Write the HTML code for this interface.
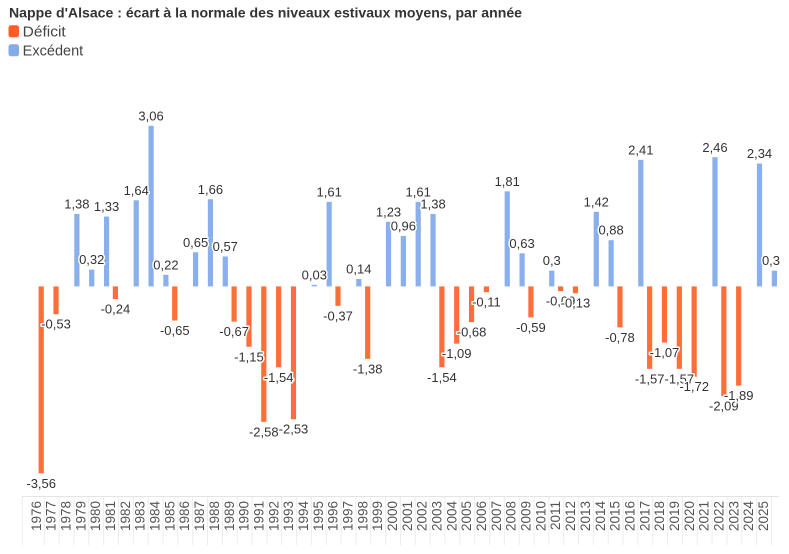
<!DOCTYPE html>
<html><head><meta charset="utf-8"><style>
html,body{margin:0;padding:0;background:#fff;}
svg{display:block;font-family:"Liberation Sans",Arial,sans-serif;}
.v{font-size:13px;fill:#333;stroke:#fff;stroke-width:3px;paint-order:stroke;stroke-linejoin:round;}
.x{font-size:13.5px;fill:#555;}
</style></head><body>
<svg width="789" height="554" viewBox="0 0 789 554" xmlns="http://www.w3.org/2000/svg" id="c">
<text x="9" y="17.5" font-size="14" font-weight="bold" fill="#333" textLength="513" lengthAdjust="spacingAndGlyphs">Nappe d'Alsace : écart à la normale des niveaux estivaux moyens, par année</text>
<rect x="8.5" y="25.3" width="10.5" height="12" rx="2.5" fill="#ff5d24"/>
<text x="22.7" y="36.6" font-size="14.5" fill="#444" textLength="43" lengthAdjust="spacingAndGlyphs">Déficit</text>
<rect x="8.5" y="44.3" width="10.5" height="12" rx="2.5" fill="#84aaea"/>
<text x="22.7" y="55.4" font-size="14.5" fill="#444" textLength="60.5" lengthAdjust="spacingAndGlyphs">Excédent</text>
<g id="axis"></g>
<g id="bars"></g>
<g id="labels"></g>
<script>
(function(){
var vals=[-3.56,-0.53,1.38,0.32,1.33,-0.24,1.64,3.06,0.22,-0.65,0.65,1.66,0.57,-0.67,-1.15,-2.58,-1.54,-2.53,0.03,1.61,-0.37,0.14,-1.38,1.23,0.96,1.61,1.38,-1.54,-1.09,-0.68,-0.11,1.81,0.63,-0.59,0.3,-0.09,-0.13,1.42,0.88,-0.78,2.41,-1.57,-1.07,-1.57,-1.72,2.46,-2.09,-1.89,2.34,0.3];
var NS="http://www.w3.org/2000/svg";
function el(n,a,p,t){var e=document.createElementNS(NS,n);for(var k in a)e.setAttribute(k,a[k]);if(t!==undefined)e.textContent=t;p.appendChild(e);return e;}
var ax=document.getElementById("axis"),bars=document.getElementById("bars"),lab=document.getElementById("labels");
var z=286.4,s=52.5,step=14.84;
// axis
el("line",{x1:22.3,y1:496.5,x2:22.3,y2:545,stroke:"#ececec","stroke-width":1},ax);
for(var j=0;j<50;j++){var gx=44.3+step*j;el("line",{x1:gx,y1:496.5,x2:gx,y2:545,stroke:"#ececec","stroke-width":1},ax);}
el("line",{x1:22,y1:496.5,x2:779,y2:496.5,stroke:"#e4e4e4","stroke-width":1},ax);
for(var k=0;k<50;k++){var cx=36.1+step*k;el("text",{"class":"x",transform:"translate("+cx.toFixed(2)+",501) rotate(-90)","text-anchor":"end",dy:"0.35em"},ax,String(1976+k));}
for(var k=0;k<50;k++){
 var v=vals[k],neg=v<0,c=neg?(41.2+step*k):(47.2+step*k),h=Math.abs(v)*s;
 var y=neg?z:z-h;
 el("rect",{x:(c-2.6).toFixed(2),y:y.toFixed(2),width:5.2,height:h.toFixed(2),fill:neg?"#ff6d3a":"#89afec"},bars);
 var t=v.toFixed(2).replace(".",",");
 if(t=="0,30")t="0,3";
 var lx=c; if(k==49)lx=771;
 var ly=neg?z+h+14.5:z-h-5.5;
 el("text",{"class":"v",x:lx.toFixed(2),y:ly.toFixed(2),"text-anchor":"middle"},lab,t);
}
})();
</script>
</svg>
</body></html>
